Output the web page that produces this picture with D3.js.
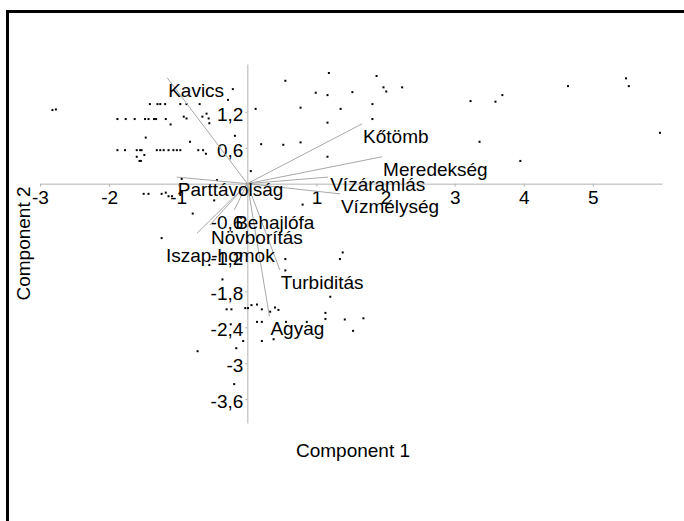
<!DOCTYPE html>
<html>
<head>
<meta charset="utf-8">
<script src="https://cdn.jsdelivr.net/npm/d3@7/dist/d3.min.js"></script>
<style>
  html, body { margin: 0; padding: 0; background: #fff; }
  svg { display: block; }
  text { font-family: "Liberation Sans", Arial, sans-serif; fill: #000; }
</style>
</head>
<body>
<script>
// ---- data ----
const pc1 = [
  -2.82,-2.77,
  -1.41,-1.30,-1.26,-1.19,-0.97,-0.88,-0.69,
  -0.21,-0.28,
  -1.88,-1.76,-1.63,-1.48,-1.43,-1.35,-1.32,-1.18,-1.11,
  -0.92,-0.88,-0.65,-0.59,-0.56,-0.55,
  -0.18,-1.47,-0.83,
  -1.88,-1.77,-1.60,-1.55,-1.53,-1.31,-1.26,-1.21,-1.14,-1.07,-1.02,-0.97,-0.71,-0.64,
  -1.49,-0.60,-1.60,-1.56,-1.54,
  0.05,-0.95,-0.44,
  -1.50,-1.43,-1.24,-1.18,-1.14,-1.09,
  -0.48,-0.79,-1.24,0.80,
  1.38,1.34,0.55,0.55,-0.55,-0.36,1.20,
  -0.30,-0.23,-0.03,0.01,0.06,0.14,0.21,0.33,0.40,0.45,
  1.13,1.13,1.41,1.68,1.53,
  0.14,0.21,-0.24,0.56,0.86,
  0.21,0.38,-0.06,-0.16,-0.72,-0.19,
  1.18,0.55,1.87,1.97,2.01,2.24,0.99,1.16,1.52,1.81,0.12,0.77,1.35,1.16,1.81,0.20,0.52,0.77,1.16,
  3.23,3.59,3.69,4.64,5.48,5.52,3.36,3.95,5.97
];
const pc2 = [
  1.23,1.24,
  1.33,1.33,1.33,1.33,1.33,1.33,1.33,
  1.58,1.40,
  1.08,1.08,1.08,1.08,1.08,1.08,1.08,1.08,0.99,
  1.12,1.09,1.12,1.17,1.09,1.01,
  0.80,0.77,0.70,
  0.56,0.56,0.56,0.56,0.56,0.56,0.56,0.56,0.56,0.56,0.56,0.56,0.56,0.56,
  0.48,0.50,0.45,0.38,0.38,
  0.21,0.08,0.06,
  -0.17,-0.17,-0.17,-0.15,-0.21,-0.21,
  -0.28,-0.50,-0.91,-0.35,
  -1.15,-1.26,-1.26,-1.45,-1.36,-1.60,-1.89,
  -2.10,-2.10,-2.08,-2.08,-2.03,-2.02,-2.10,-2.14,-2.07,-2.11,
  -2.16,-2.26,-2.27,-2.25,-2.46,
  -2.31,-2.31,-2.35,-2.31,-2.31,
  -2.63,-2.60,-2.63,-2.75,-2.80,-3.35,
  1.85,1.72,1.80,1.61,1.54,1.61,1.52,1.48,1.53,1.33,1.25,1.27,1.25,1.02,1.08,0.66,0.65,0.69,0.45,
  1.38,1.37,1.48,1.63,1.76,1.63,0.70,0.38,0.85
];

const variables = ["Kavics","Kőtömb","Meredekség","Vízáramlás","Vízmélység","Parttávolság","Behajlófa","Növborítás","Iszap-homok","Turbiditás","Agyag"];
const load1 = [-1.16, 1.66, 1.95, 1.17, 1.34, -1.02, -0.19, -0.54, -0.73, 0.47, 0.32];
const load2 = [ 1.77, 1.00, 0.45, 0.11, -0.17, 0.11, -0.44, -0.69, -0.83, -1.44, -2.22];

const xTicks = [-3,-2,-1,1,2,3,4,5];
const yTicks = [-3.6,-3,-2.4,-1.8,-1.2,-0.6,0.6,1.2];
const xTitle = "Component 1";
const yTitle = "Component 2";

// ---- drawing ----
const W = 684, H = 521;
const svg = d3.select("body").append("svg").attr("width", W).attr("height", H);

const x = d3.scaleLinear().domain([-3, 6]).range([40, 662]);
const y = d3.scaleLinear().domain([-4, 2]).range([423, 64]);

// frame
svg.append("rect").attr("x", 7.5).attr("y", 11.5).attr("width", 720).attr("height", 560)
  .attr("fill", "none").attr("stroke", "#000").attr("stroke-width", 3);

const fmt = v => String(v).replace(".", ",");

const gx = svg.append("g").attr("transform", `translate(0,${y(0)})`)
  .call(d3.axisBottom(x).tickValues(xTicks).tickSize(3).tickSizeOuter(0).tickPadding(4).tickFormat(fmt));
const gy = svg.append("g").attr("transform", `translate(${x(0)},0)`)
  .call(d3.axisLeft(y).tickValues(yTicks).tickSize(2).tickSizeOuter(0).tickPadding(2).tickFormat(fmt));
[gx, gy].forEach(g => {
  g.select(".domain").attr("stroke", "#b4b4b4");
  g.selectAll(".tick line").attr("stroke", "#b4b4b4");
  g.selectAll(".tick text").attr("font-size", 19).attr("fill", "#000")
    .attr("font-family", '"Liberation Sans", Arial, sans-serif');
});
gy.selectAll(".tick text").attr("dy", "0.45em");

// points
svg.append("g").selectAll("rect").data(pc1.map((v, i) => [v, pc2[i]])).join("rect")
  .attr("x", d => x(d[0]) - 1).attr("y", d => y(d[1]) - 1)
  .attr("width", 2).attr("height", 2).attr("fill", "#000");

// biplot vectors
const labelNudge = { "Vízáramlás": [1, -5], "Iszap-homok": [-32, 10] };
const vg = svg.append("g");
variables.forEach((name, i) => {
  vg.append("line").attr("x1", x(0)).attr("y1", y(0))
    .attr("x2", x(load1[i])).attr("y2", y(load2[i]))
    .attr("stroke", "#a8a8a8").attr("stroke-width", 1);
});
variables.forEach((name, i) => {
  const n = labelNudge[name] || [0, 0];
  vg.append("text").attr("x", x(load1[i]) + 1 + n[0]).attr("y", y(load2[i]) + 19 + n[1])
    .attr("font-size", 19).text(name);
});

// axis titles
svg.append("text").attr("x", (x.range()[0] + x.range()[1]) / 2 + 2).attr("y", 457)
  .attr("text-anchor", "middle").attr("font-size", 19).text(xTitle);
svg.append("text").attr("transform", `translate(30,${(y.range()[0] + y.range()[1]) / 2}) rotate(-90)`)
  .attr("text-anchor", "middle").attr("font-size", 19).text(yTitle);
</script>
</body>
</html>
